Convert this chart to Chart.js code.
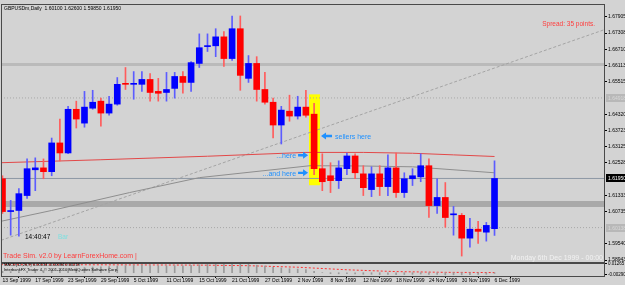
<!DOCTYPE html>
<html>
<head>
<meta charset="utf-8">
<title>GBPUSDm Daily</title>
<script src="https://cdn.jsdelivr.net/npm/chart.js@4.4.1/dist/chart.umd.min.js"></script>
<style>
  html, body { margin: 0; padding: 0; background: #d3d3d3; overflow: hidden; }
  #box { position: relative; width: 625px; height: 285px; }
</style>
</head>
<body>
<div id="box"><canvas id="priceChart"></canvas></div>
<script>
// date labels under the chart, one every 4 daily bars
const tickDates = ['13 Sep 1999', '17 Sep 1999', '23 Sep 1999', '29 Sep 1999', '5 Oct 1999', '11 Oct 1999',
  '15 Oct 1999', '21 Oct 1999', '27 Oct 1999', '2 Nov 1999', '8 Nov 1999', '12 Nov 1999',
  '18 Nov 1999', '24 Nov 1999', '30 Nov 1999', '6 Dec 1999'];

// GBPUSD daily candles, bar 0 = 13 Sep 1999
const opens = [1.6194, 1.6073, 1.6077, 1.6132, 1.6227, 1.6234, 1.6220, 1.6326, 1.6289, 1.6450,
  1.6399, 1.6454, 1.6480, 1.6436, 1.6469, 1.6545, 1.6542, 1.6542, 1.6560, 1.6516,
  1.6512, 1.6527, 1.6571, 1.6549, 1.6619, 1.6681, 1.6684, 1.6717, 1.6637, 1.6747,
  1.6564, 1.6619, 1.6523, 1.6476, 1.6392, 1.6443, 1.6425, 1.6458, 1.6432, 1.6231,
  1.6205, 1.6187, 1.6231, 1.6278, 1.6212, 1.6154, 1.6212, 1.6165, 1.6234, 1.6143,
  1.6194, 1.6201, 1.6242, 1.6095, 1.6125, 1.6061, 1.6059, 1.5975, 1.6008, 1.5997,
  1.6010];
const highs = [1.6205, 1.6114, 1.6158, 1.6267, 1.6271, 1.6267, 1.6344, 1.6414, 1.6461, 1.6480,
  1.6516, 1.6520, 1.6491, 1.6498, 1.6567, 1.6604, 1.6589, 1.6589, 1.6582, 1.6564,
  1.6586, 1.6586, 1.6589, 1.6626, 1.6728, 1.6728, 1.6747, 1.6736, 1.6794, 1.6794,
  1.6648, 1.6644, 1.6586, 1.6491, 1.6461, 1.6502, 1.6498, 1.6520, 1.6472, 1.6286,
  1.6253, 1.6260, 1.6289, 1.6286, 1.6242, 1.6238, 1.6242, 1.6282, 1.6289, 1.6216,
  1.6231, 1.6286, 1.6267, 1.6194, 1.6180, 1.6092, 1.6066, 1.6048, 1.6037, 1.6033,
  1.6260];
const lows = [1.6066, 1.5986, 1.5982, 1.6121, 1.6150, 1.6194, 1.6205, 1.6260, 1.6286, 1.6381,
  1.6384, 1.6450, 1.6388, 1.6428, 1.6465, 1.6523, 1.6487, 1.6516, 1.6480, 1.6480,
  1.6480, 1.6491, 1.6509, 1.6516, 1.6604, 1.6663, 1.6644, 1.6608, 1.6630, 1.6520,
  1.6549, 1.6480, 1.6469, 1.6344, 1.6322, 1.6406, 1.6414, 1.6421, 1.6209, 1.6150,
  1.6143, 1.6158, 1.6209, 1.6194, 1.6132, 1.6128, 1.6132, 1.6132, 1.6125, 1.6125,
  1.6169, 1.6183, 1.6051, 1.6066, 1.6015, 1.5986, 1.5909, 1.5942, 1.5956, 1.5964,
  1.5985];
const closes = [1.6073, 1.6075, 1.6139, 1.6231, 1.6234, 1.6220, 1.6326, 1.6289, 1.6450, 1.6414,
  1.6458, 1.6476, 1.6436, 1.6469, 1.6542, 1.6542, 1.6545, 1.6560, 1.6512, 1.6509,
  1.6523, 1.6571, 1.6549, 1.6622, 1.6677, 1.6684, 1.6717, 1.6637, 1.6747, 1.6575,
  1.6619, 1.6523, 1.6476, 1.6392, 1.6447, 1.6425, 1.6458, 1.6428, 1.6231, 1.6183,
  1.6187, 1.6234, 1.6278, 1.6216, 1.6161, 1.6212, 1.6165, 1.6234, 1.6143, 1.6194,
  1.6205, 1.6242, 1.6095, 1.6125, 1.6051, 1.6062, 1.5975, 1.6008, 1.6000, 1.6022,
  1.6195];

// moving averages read at a few bars
const redMaBars = [-0.2, 12, 25, 37, 44, 50, 55, 60];
const redMaValues = [1.6253, 1.6264, 1.6277, 1.6291, 1.6291, 1.6288, 1.6282, 1.6276];
const grayMaBars = [-0.2, 6, 15.5, 24, 37.5, 44, 50, 60];
const grayMaValues = [1.6037, 1.6077, 1.6143, 1.6198, 1.6242, 1.6241, 1.6238, 1.6216];

// dashed trend line (two ends)
const trendBars = [-0.18, 73.35];
const trendValues = [1.5967, 1.6743];

// horizontal objects
const bandLevels = [1.6615, 1.6101];
const dottedLevels = [1.64918, 1.60138];

// right axis labels
const priceTicks = [1.67905, 1.67308, 1.66710, 1.66113, 1.65515, 1.64320, 1.63723, 1.63125,
  1.62528, 1.61333, 1.60735, 1.59540, 1.58943];

// MACD(12,26,9) sub window
const macdHist = [0.0020, 0.0015, 0.0014, 0.0020, 0.0025, 0.0028, 0.0037, 0.0042, 0.0055, 0.0062,
  0.0070, 0.0078, 0.0080, 0.0084, 0.0092, 0.0097, 0.0099, 0.0101, 0.0099, 0.0096,
  0.0095, 0.0096, 0.0095, 0.0100, 0.0108, 0.0114, 0.0120, 0.0119, 0.0126, 0.0118,
  0.0114, 0.0103, 0.0091, 0.0075, 0.0065, 0.0055, 0.0050, 0.0043, 0.0020, 0.0000,
  -0.0012, -0.0015, -0.0012, -0.0015, -0.0022, -0.0022, -0.0025, -0.0022, -0.0026, -0.0025,
  -0.0023, -0.0018, -0.0023, -0.0024, -0.0029, -0.0028, -0.0029, -0.0027, -0.0025, -0.0022,
  -0.0010];
const macdSignalBars = [-0.2, 12, 24, 30, 36, 42, 48, 54, 60];
const macdSignal = [0.0110, 0.0108, 0.0104, 0.0096, 0.0075, 0.0040, 0.0015, 0.0005, 0.0002];
const macdTicks = [0.01265, -0.00290];

// annotations
const notes = [
  { text: 'sellers here', bar: 40.55, price: 1.6348, arrow: 'left' },
  { text: '...here', bar: 35.8, price: 1.6277, arrow: 'right' },
  { text: '...and here', bar: 35.8, price: 1.6212, arrow: 'right' }
];
const highlightBar = 38;
const highlightRange = [1.6170, 1.6505];

const xMin = -0.18, xMax = 73.35;
const BLUE = '#0000ff', RED = '#ff0000';
const FONT = 'Liberation Sans';
Chart.defaults.font.family = FONT;

const bull = closes.map((c, i) => c >= opens[i]);
const lastClose = closes[closes.length - 1];

function flatLine(level, color, width, dash) {
  return {
    type: 'line', yAxisID: 'y',
    data: [{ x: xMin, y: level }, { x: xMax, y: level }],
    borderColor: color, borderWidth: width, borderDash: dash || [],
    pointRadius: 0
  };
}

const overlay = {
  id: 'overlay',
  beforeDatasetsDraw(chart) {
    const { ctx, scales: { x, y } } = chart;
    const w = 11;
    const cx = x.getPixelForValue(highlightBar);
    const top = y.getPixelForValue(highlightRange[1]);
    const bot = y.getPixelForValue(highlightRange[0]);
    ctx.save();
    ctx.fillStyle = '#ffff00';
    ctx.fillRect(Math.round(cx - w / 2), top, w, bot - top);
    ctx.restore();
  },
  afterDatasetsDraw(chart) {
    const { ctx, chartArea, scales: { x, y, y2 } } = chart;
    ctx.save();
    // window frames
    ctx.strokeStyle = '#4a4a4a';
    ctx.lineWidth = 1;
    ctx.strokeRect(chartArea.left + 0.5, y.top + 0.5, chartArea.right - chartArea.left, y.bottom - y.top);
    ctx.lineWidth = 2;
    ctx.beginPath();
    ctx.moveTo(chartArea.left, y.bottom + 1);
    ctx.lineTo(chartArea.right, y.bottom + 1);
    ctx.stroke();
    ctx.lineWidth = 1;
    ctx.strokeRect(chartArea.left + 0.5, y2.top + 0.5, chartArea.right - chartArea.left, y2.bottom - y2.top);

    // notes with arrows
    ctx.font = '7px ' + FONT;
    ctx.textBaseline = 'middle';
    ctx.fillStyle = '#1e90ff';
    notes.forEach(n => {
      const px = x.getPixelForValue(n.bar);
      const py = y.getPixelForValue(n.price);
      if (n.arrow === 'left') {
        ctx.textAlign = 'left';
        ctx.fillText(n.text, px, py);
        drawArrow(ctx, px - 3, px - 14, py - 1);
      } else {
        ctx.textAlign = 'right';
        ctx.fillText(n.text, px, py);
        drawArrow(ctx, px + 2, px + 12, py - 1);
      }
    });

    // texts
    ctx.textAlign = 'left';
    ctx.fillStyle = '#000';
    ctx.font = '5px ' + FONT;
    ctx.fillText('GBPUSDm,Daily  1.60100 1.62600 1.59850 1.61950', chartArea.left + 3, y.top + 5);
    ctx.font = '6.5px ' + FONT;
    ctx.fillText('14:40:47', chartArea.left + 24, y.top + 233);
    ctx.fillStyle = '#7fe0e0';
    ctx.fillText('Bar', chartArea.left + 57, y.top + 233);
    ctx.fillStyle = '#ff3c3c';
    ctx.textAlign = 'right';
    ctx.fillText('Spread: 35 points.', chartArea.right - 9, y.top + 20);
    ctx.textAlign = 'left';
    ctx.font = '7px ' + FONT;
    ctx.fillText('Trade Sim. v2.0 by LearnForexHome.com |', chartArea.left + 2, y.bottom - 6);
    ctx.fillStyle = '#f2f2f2';
    ctx.textAlign = 'right';
    ctx.fillText('Monday 6th Dec 1999 - 00:00', chartArea.right - 1, y.bottom - 4);

    ctx.textAlign = 'left';
    ctx.fillStyle = '#000';
    ctx.font = '4px ' + FONT;
    ctx.fillText('MACD(12,26,9) 0.00134 -0.00084 0.00218', chartArea.left + 3, y2.top + 2.5);
    ctx.fillText('InterbankFX Trader 4, \u00a9 2001-2010 MetaQuotes Software Corp.', chartArea.left + 3, y2.top + 8);

    // price boxes on the right axis
    const boxes = [
      { v: lastClose, bg: '#000', fg: '#fff', label: '1.61950' },
      { v: dottedLevels[0], bg: '#b8b8b8', fg: '#d8d8d8', label: dottedLevels[0].toFixed(5) },
      { v: dottedLevels[1], bg: '#b8b8b8', fg: '#d8d8d8', label: dottedLevels[1].toFixed(5) }
    ];
    ctx.font = '5px ' + FONT;
    boxes.forEach(b => {
      const py = Math.round(y.getPixelForValue(b.v));
      ctx.fillStyle = b.bg;
      ctx.fillRect(chartArea.right + 2, py - 4, 21, 8);
      ctx.fillStyle = b.fg;
      ctx.fillText(b.label, chartArea.right + 4, py + 0.5);
    });
    ctx.restore();
  }
};

function drawArrow(ctx, from, to, yy) {
  const dir = Math.sign(to - from);
  ctx.beginPath();
  ctx.moveTo(to, yy);
  ctx.lineTo(to - dir * 5, yy - 3.5);
  ctx.lineTo(to - dir * 5, yy - 1.2);
  ctx.lineTo(from, yy - 1.2);
  ctx.lineTo(from, yy + 1.2);
  ctx.lineTo(to - dir * 5, yy + 1.2);
  ctx.lineTo(to - dir * 5, yy + 3.5);
  ctx.closePath();
  ctx.fill();
}

new Chart(document.getElementById('priceChart'), {
  type: 'bar',
  data: {
    datasets: [
      {
        label: 'body', yAxisID: 'y', grouped: false,
        data: opens.map((o, i) => ({ x: i, y: [Math.min(o, closes[i]), Math.max(o, closes[i])] })),
        backgroundColor: bull.map(b => b ? BLUE : RED),
        barThickness: 6, minBarLength: 1
      },
      {
        label: 'wick', yAxisID: 'y', grouped: false,
        data: highs.map((h, i) => ({ x: i, y: [lows[i], h] })),
        backgroundColor: bull.map(b => b ? '#5c5cff' : '#ff5c5c'),
        barThickness: 1
      },
      {
        type: 'line', label: 'MA red', yAxisID: 'y',
        data: redMaBars.map((b, i) => ({ x: b, y: redMaValues[i] })),
        borderColor: '#e24848', borderWidth: 1, pointRadius: 0
      },
      {
        type: 'line', label: 'MA gray', yAxisID: 'y',
        data: grayMaBars.map((b, i) => ({ x: b, y: grayMaValues[i] })),
        borderColor: '#8e8e8e', borderWidth: 1, pointRadius: 0
      },
      {
        type: 'line', label: 'trend', yAxisID: 'y',
        data: trendBars.map((b, i) => ({ x: b, y: trendValues[i] })),
        borderColor: '#a4a4a4', borderWidth: 1, borderDash: [3, 2], pointRadius: 0
      },
      Object.assign(flatLine(lastClose, '#8d98a4', 1), { label: 'bid' }),
      Object.assign(flatLine(dottedLevels[0], '#a8a8a8', 1, [1, 2]), { label: 'dot1' }),
      Object.assign(flatLine(dottedLevels[1], '#a8a8a8', 1, [1, 2]), { label: 'dot2' }),
      Object.assign(flatLine(bandLevels[0], '#bababa', 3), { label: 'band1' }),
      Object.assign(flatLine(bandLevels[1], '#a9a9a9', 6), { label: 'band2' }),
      {
        label: 'macd', yAxisID: 'y2', grouped: false,
        data: macdHist.map((v, i) => ({ x: i, y: [0, v] })),
        backgroundColor: '#9a9a9a', barThickness: 1
      },
      {
        type: 'line', label: 'signal', yAxisID: 'y2',
        data: macdSignalBars.map((b, i) => ({ x: b, y: macdSignal[i] })),
        borderColor: '#ff3030', borderWidth: 1, borderDash: [2, 2], pointRadius: 0
      }
    ]
  },
  options: {
    responsive: true,
    maintainAspectRatio: false,
    animation: false,
    events: [],
    layout: { padding: { left: 1, top: 1, right: 0, bottom: 0 } },
    plugins: { legend: { display: false }, tooltip: { enabled: false } },
    scales: {
      x: {
        type: 'linear', min: xMin, max: xMax, offset: false,
        grid: { drawOnChartArea: false, tickLength: 2, color: '#000' },
        border: { color: '#4a4a4a' },
        afterBuildTicks: s => { s.ticks = tickDates.map((d, k) => ({ value: k * 4 })); },
        afterFit: s => { s.height = 9; },
        ticks: {
          autoSkip: false, maxRotation: 0, align: 'start', padding: 0,
          color: '#000', font: { size: 5 },
          callback: v => tickDates[Math.round(v / 4)]
        }
      },
      y: {
        position: 'right', stack: 'win', stackWeight: 260,
        min: 1.58867, max: 1.68381,
        grid: { drawOnChartArea: false, tickLength: 3, color: '#000' },
        border: { color: '#4a4a4a' },
        afterBuildTicks: s => { s.ticks = priceTicks.map(v => ({ value: v })); },
        afterFit: s => { s.width = 21; },
        ticks: { autoSkip: false, padding: 1, color: '#000', font: { size: 5 }, callback: v => v.toFixed(5) }
      },
      y2: {
        position: 'right', stack: 'win', stackWeight: 14,
        min: -0.0045, max: 0.0145,
        grid: { drawOnChartArea: false, tickLength: 3, color: '#000' },
        border: { color: '#4a4a4a' },
        afterBuildTicks: s => { s.ticks = macdTicks.map(v => ({ value: v })); },
        afterFit: s => { s.width = 21; },
        ticks: { autoSkip: false, padding: 1, color: '#000', font: { size: 4.5 }, callback: v => v.toFixed(5) }
      }
    }
  },
  plugins: [overlay]
});
</script>
</body>
</html>
